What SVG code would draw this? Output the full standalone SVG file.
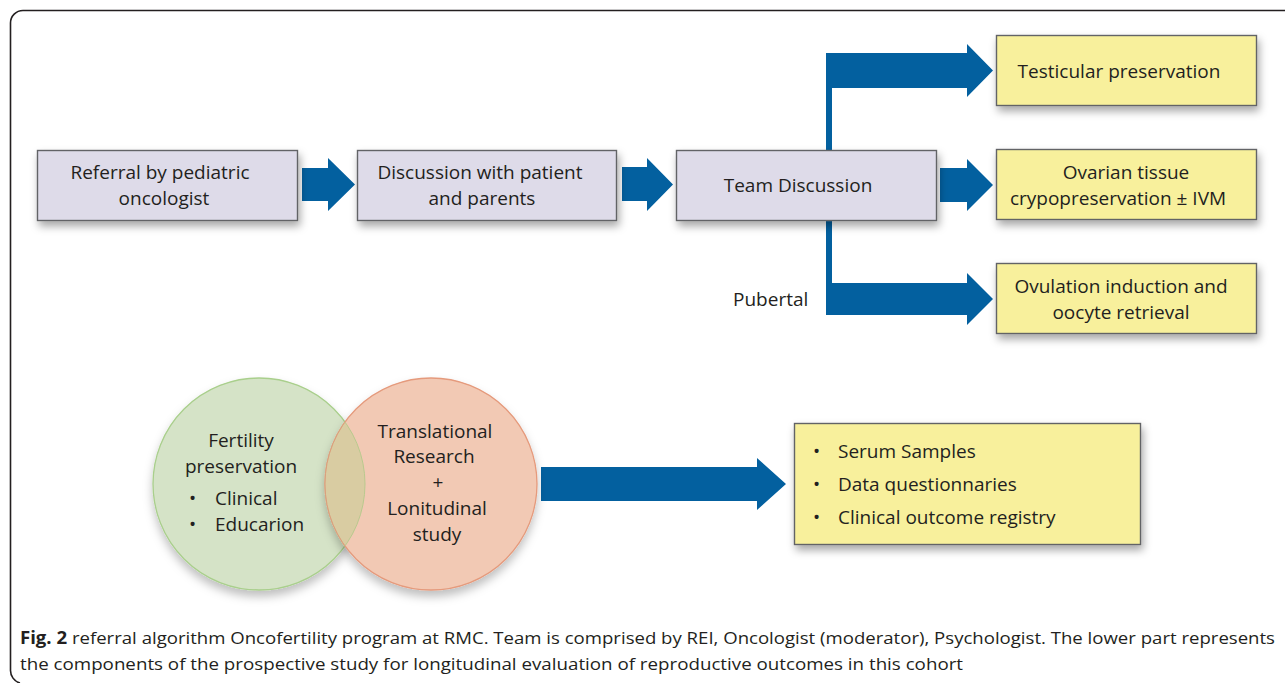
<svg xmlns="http://www.w3.org/2000/svg" width="1285" height="683" viewBox="0 0 1285 683">
<defs>
<filter id="sh" x="-20%" y="-20%" width="140%" height="160%">
<feDropShadow dx="2" dy="5" stdDeviation="4" flood-color="#000" flood-opacity="0.35"/>
</filter>
<filter id="shc" x="-20%" y="-20%" width="140%" height="150%">
<feDropShadow dx="0" dy="6" stdDeviation="5" flood-color="#000" flood-opacity="0.25"/>
</filter>
<clipPath id="greenClip"><circle cx="259" cy="484" r="106"/></clipPath>
<clipPath id="orangeClip"><circle cx="431" cy="484" r="106"/></clipPath>
</defs>
<style>
.t{font-family:"Open Sans","Noto Sans","Liberation Sans",sans-serif;font-size:19px;fill:#231f20;text-anchor:middle}
.tl{font-family:"Open Sans","Noto Sans","Liberation Sans",sans-serif;font-size:19px;fill:#231f20}
.lav{fill:#dedbe9;stroke:#626366;stroke-width:1.4}
.yel{fill:#f8f09c;stroke:#626366;stroke-width:1.4}
.arr{fill:#03609f}
.cap{font-family:"Open Sans","Noto Sans","Liberation Sans",sans-serif;font-size:17px;fill:#231f20}
</style>
<rect width="1285" height="683" fill="#fff"/>
<path d="M1285 10.5 H23 A12.5 12.5 0 0 0 10.5 23 V670 A13 13 0 0 0 20 683" fill="none" stroke="#231f20" stroke-width="1.6"/>

<g id="connectors">
<path class="arr" d="M302 168 H328 V158 L355 184.5 L328 211 V201 H302 Z"/>
<path class="arr" d="M622 167 H647 V158 L673 184.5 L647 211 V201 H622 Z"/>
<path class="arr" d="M826 150 V53 H967 V44 L993 70.5 L967 97 V88 H832 V150 Z"/>
<path class="arr" d="M940 168 H967 V159 L993 185 L967 211 V202 H940 Z"/>
<path class="arr" d="M826 220 V315 H967 V325 L993 299 L967 273 V283 H832 V220 Z"/>
<path class="arr" d="M541 467 H757 V458 L786 484 L757 510 V501 H541 Z"/>
</g>

<g id="referral">
<rect class="lav" x="37.5" y="150.5" width="260" height="70" filter="url(#sh)"/>
<text class="t" x="160" y="179">Referral by pediatric</text>
<text class="t" x="164" y="205">oncologist</text>
</g>
<g id="discussion">
<rect class="lav" x="357.5" y="150.5" width="259" height="70" filter="url(#sh)"/>
<text class="t" x="480" y="179">Discussion with patient</text>
<text class="t" x="482" y="205">and parents</text>
</g>
<g id="team">
<rect class="lav" x="676.5" y="150.5" width="260" height="70" filter="url(#sh)"/>
<text class="t" x="798" y="192">Team Discussion</text>
</g>
<g id="pubertal-label">
<text class="tl" x="733" y="306">Pubertal</text>
</g>
<g id="testicular">
<rect class="yel" x="996.5" y="35.5" width="260" height="70" filter="url(#sh)"/>
<text class="t" x="1119" y="78">Testicular preservation</text>
</g>
<g id="ovarian">
<rect class="yel" x="996.5" y="149.5" width="260" height="70" filter="url(#sh)"/>
<text class="t" x="1126" y="179">Ovarian tissue</text>
<text class="t" x="1118" y="205">crypopreservation ± IVM</text>
</g>
<g id="ovulation">
<rect class="yel" x="996.5" y="263.5" width="260" height="70" filter="url(#sh)"/>
<text class="t" x="1121" y="293">Ovulation induction and</text>
<text class="t" x="1121" y="319">oocyte retrieval</text>
</g>

<g id="fertility">
<circle cx="259" cy="484" r="106" fill="#d5e3c7" stroke="#a9cf8c" stroke-width="1.3" filter="url(#shc)"/>
</g>
<g id="translational">
<circle cx="431" cy="484" r="106" fill="#f2c9b4" stroke="#e59a7c" stroke-width="1.3" filter="url(#shc)"/>
<circle cx="431" cy="484" r="106" fill="#d9cca2" clip-path="url(#greenClip)"/>
<circle cx="431" cy="484" r="106" fill="none" stroke="#d9a07c" stroke-width="1" clip-path="url(#greenClip)"/>
<circle cx="259" cy="484" r="106" fill="none" stroke="#b9c98e" stroke-width="1" clip-path="url(#orangeClip)"/>
</g>
<g id="fertility-text">
<text class="t" x="241" y="447">Fertility</text>
<text class="t" x="241" y="473">preservation</text>
<text class="tl" x="189" y="505">•</text>
<text class="tl" x="215" y="505">Clinical</text>
<text class="tl" x="189" y="531">•</text>
<text class="tl" x="215" y="531">Educarion</text>
</g>
<g id="translational-text">
<text class="t" x="435" y="438">Translational</text>
<text class="t" x="434" y="463">Research</text>
<text class="t" x="438" y="489">+</text>
<text class="t" x="437" y="515">Lonitudinal</text>
<text class="t" x="437" y="541">study</text>
</g>

<g id="outcomes">
<rect class="yel" x="794.5" y="423.5" width="346" height="121" filter="url(#sh)"/>
<text class="tl" x="813" y="458">•</text>
<text class="tl" x="838" y="458">Serum Samples</text>
<text class="tl" x="813" y="491">•</text>
<text class="tl" x="838" y="491">Data questionnaries</text>
<text class="tl" x="813" y="524">•</text>
<text class="tl" x="838" y="524">Clinical outcome registry</text>
</g>

<g id="caption">
<text class="cap" x="20" y="644" textLength="1255" lengthAdjust="spacingAndGlyphs"><tspan font-weight="bold">Fig. 2</tspan> referral algorithm Oncofertility program at RMC. Team is comprised by REI, Oncologist (moderator), Psychologist. The lower part represents</text>
<text class="cap" x="20" y="670" textLength="943" lengthAdjust="spacingAndGlyphs">the components of the prospective study for longitudinal evaluation of reproductive outcomes in this cohort</text>
</g>
</svg>
